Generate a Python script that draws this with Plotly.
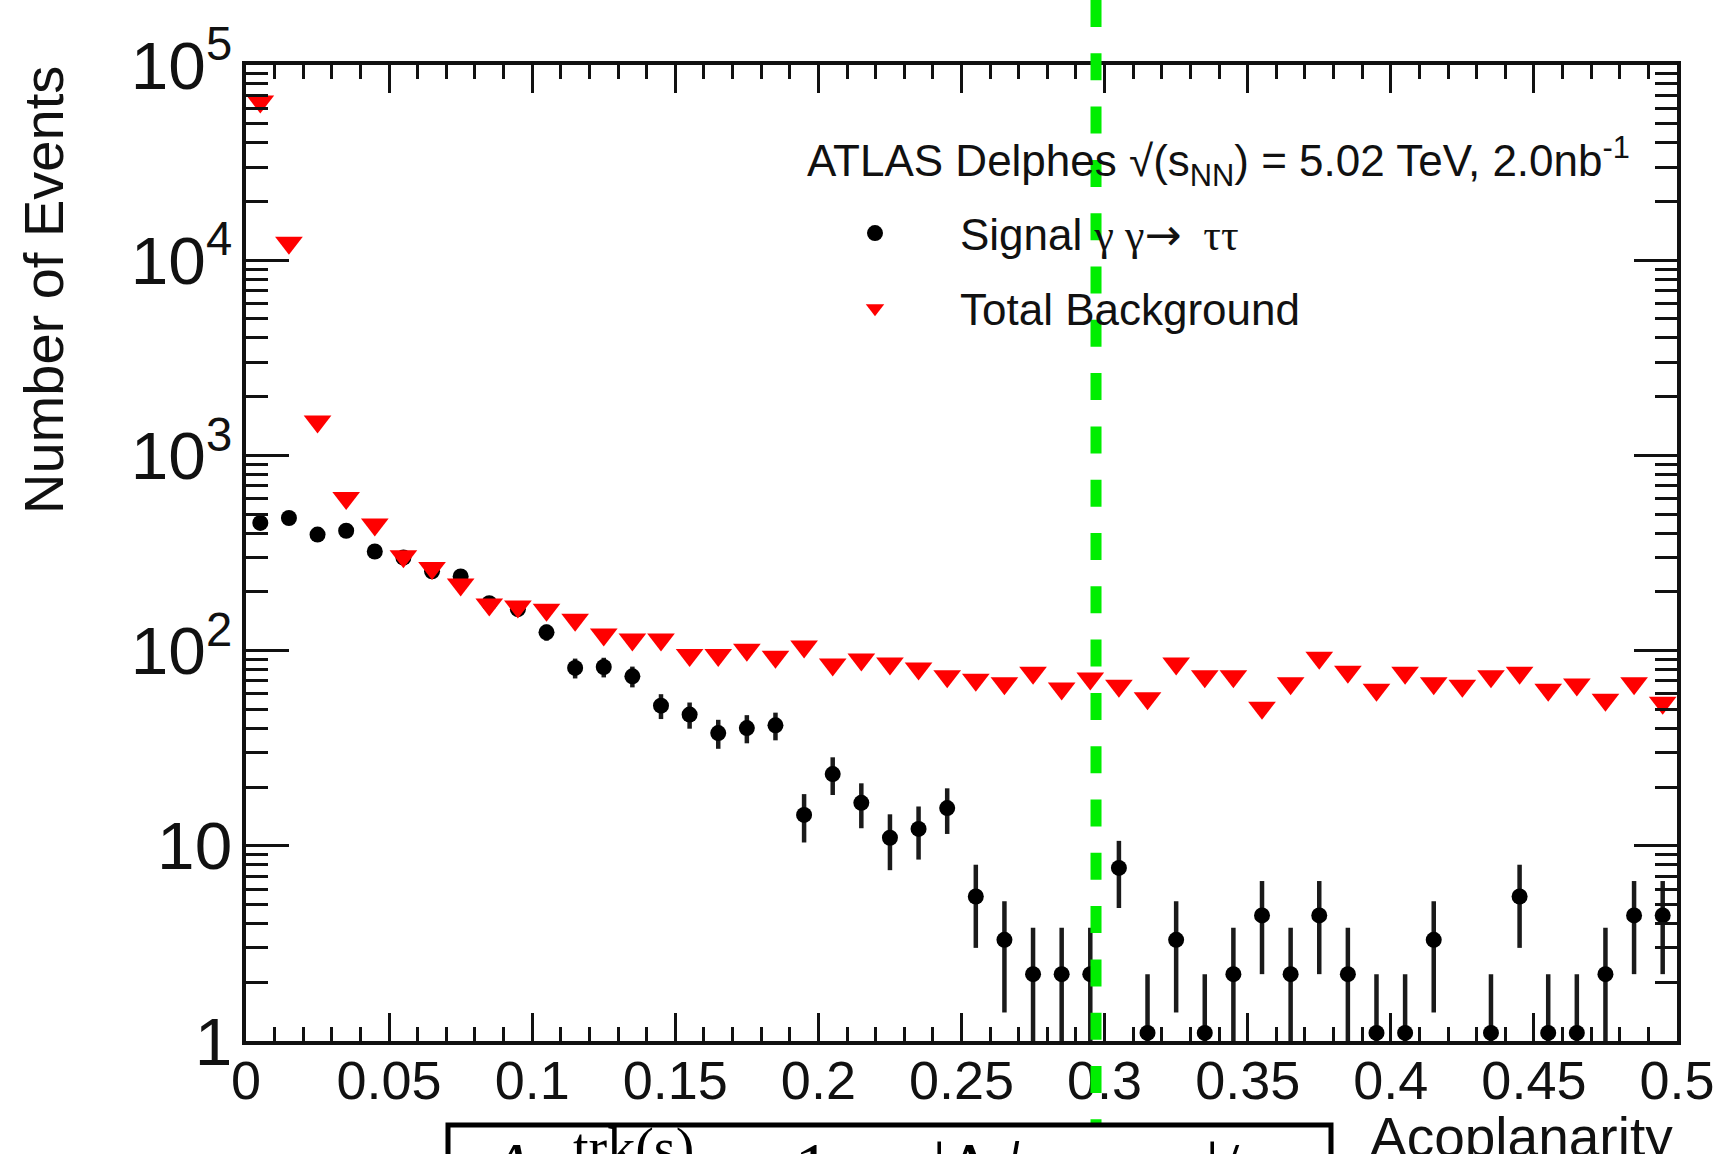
import plotly.graph_objects as go

# Acoplanarity bins (bin centres, width 0.01)
bin_centers = [0.005, 0.015, 0.025, 0.035, 0.045, 0.055, 0.065, 0.075, 0.085, 0.095,
               0.105, 0.115, 0.125, 0.135, 0.145, 0.155, 0.165, 0.175, 0.185, 0.195,
               0.205, 0.215, 0.225, 0.235, 0.245, 0.255, 0.265, 0.275, 0.285, 0.295,
               0.305, 0.315, 0.325, 0.335, 0.345, 0.355, 0.365, 0.375, 0.385, 0.395,
               0.405, 0.415, 0.425, 0.435, 0.445, 0.455, 0.465, 0.475, 0.485, 0.495]

# Signal gamma gamma -> tau tau (weighted events) and its statistical uncertainty
signal = [451, 478, 393, 411, 322, 300, 255, 240, 175, 163,
          124, 81.5, 82.4, 73.8, 52.2, 47.0, 37.8, 40.1, 41.4, 14.4,
          23.3, 16.6, 11.0, 12.2, 15.6, 5.5, 3.3, 2.2, 2.2, 2.2,
          7.7, 1.1, 3.3, 1.1, 2.2, 4.4, 2.2, 4.4, 2.2, 1.1,
          1.1, 3.3, None, 1.1, 5.5, 1.1, 1.1, 2.2, 4.4, 4.4]
signal_err = [22.3, 22.9, 20.8, 21.3, 18.8, 18.2, 16.7, 16.2, 13.9, 13.4,
              11.7, 9.5, 9.5, 9.0, 7.6, 7.2, 6.4, 6.6, 6.7, 4.0,
              5.1, 4.3, 3.5, 3.7, 4.1, 2.5, 1.9, 1.6, 1.6, 1.6,
              2.9, 1.1, 1.9, 1.1, 1.6, 2.2, 1.6, 2.2, 1.6, 1.1,
              1.1, 1.9, 0, 1.1, 2.5, 1.1, 1.1, 1.6, 2.2, 2.2]

# Total background
background = [65000, 12300, 1490, 605, 442, 304, 265, 218, 172, 168,
              162, 144, 121, 114, 114, 95, 95, 101, 93, 105,
              85, 90, 86, 81, 74, 71, 68, 77, 64, 72,
              66, 57, 86, 74, 74, 51, 68, 92, 78, 63,
              77, 68, 66, 74, 77, 63, 67, 56, 68, 54]

x_range = [0.0, 0.5]
acoplanarity_cut = 0.297

W, H = 1715, 1154
ML, MR, MT, MB = 246, 38, 65, 113
PLOT_W = W - ML - MR
PLOT_H = H - MT - MB

SANS = "Liberation Sans, Arial, Helvetica, sans-serif"
SERIF = "Liberation Serif, Times New Roman, serif"
INK = "#111111"


def px_to_paper_x(px):
    return (px - ML) / PLOT_W


def px_to_paper_y(py):
    return (H - MB - py) / PLOT_H


fig = go.Figure()

fig.add_trace(go.Scatter(
    x=bin_centers, y=signal, mode="markers",
    name=('Signal <span style="font-family:Liberation Serif">γ γ</span>'
          '<span style="font-family:DejaVu Sans">→</span>'
          '<span style="font-family:Liberation Serif">\u00a0\u00a0ττ</span>'),
    legendgroup="signal",
    marker=dict(symbol="circle", size=16, color="black"),
    error_y=dict(type="data", array=signal_err, color="#1a1a1a", thickness=4.5, width=0),
))

fig.add_trace(go.Scatter(
    x=bin_centers, y=background, mode="markers",
    name="Total Background",
    legendgroup="background",
    marker=dict(symbol="triangle-down", size=24, color="#ff0000"),
))

tick_font = dict(family=SANS, size=54, color=INK)

fig.update_xaxes(
    range=x_range, tick0=0, dtick=0.05,
    ticks="inside", ticklen=28, tickwidth=3, tickcolor=INK,
    showline=True, linewidth=4, linecolor=INK, mirror="ticks",
    showgrid=False, zeroline=False, tickfont=tick_font,
    ticklabelstandoff=-11,
    minor=dict(dtick=0.01, ticks="inside", ticklen=14, tickwidth=3,
               tickcolor=INK, showgrid=False),
)

fig.update_yaxes(
    type="log", range=[0, 5], dtick=1, exponentformat="power",
    ticks="inside", ticklen=43, tickwidth=3, tickcolor=INK,
    showline=True, linewidth=4, linecolor=INK, mirror="ticks",
    showgrid=False, zeroline=False, tickfont=tick_font,
    ticklabelstandoff=-1,
    minor=dict(dtick="D1", ticks="inside", ticklen=22, tickwidth=3,
               tickcolor=INK, showgrid=False),
)

# vertical dashed cut line, running from the top edge of the page down to the formula box
cut_paper_x = (acoplanarity_cut - x_range[0]) / (x_range[1] - x_range[0])
shapes = [
    dict(type="line", xref="paper", yref="paper",
         x0=cut_paper_x, x1=cut_paper_x,
         y0=px_to_paper_y(0), y1=px_to_paper_y(1150),
         line=dict(color="#00ee00", width=11, dash="27px,26.3px"),
         layer="above"),
    # formula box under the axis
    dict(type="rect", xref="paper", yref="paper",
         x0=px_to_paper_x(448), x1=px_to_paper_x(1331),
         y0=px_to_paper_y(1125), y1=px_to_paper_y(1260),
         line=dict(color="black", width=5), fillcolor="white", layer="above"),
]

annotations = [
    dict(text="ATLAS Delphes √(s<sub>NN</sub>) = 5.02 TeV, 2.0nb<sup>-1</sup>",
         xref="paper", yref="paper", x=px_to_paper_x(805), y=px_to_paper_y(161),
         xanchor="left", yanchor="middle", showarrow=False,
         font=dict(family=SANS, size=44, color=INK)),
    dict(text="Number of Events", textangle=-90,
         xref="paper", yref="paper", x=px_to_paper_x(44), y=px_to_paper_y(64),
         xanchor="center", yanchor="top", showarrow=False,
         font=dict(family=SANS, size=56, color=INK)),
    dict(text="Acoplanarity",
         xref="paper", yref="paper", x=px_to_paper_x(1675), y=px_to_paper_y(1104),
         xanchor="right", yanchor="top", showarrow=False,
         font=dict(family=SANS, size=55, color=INK)),
    # formula inside the box
    dict(text="<i>A</i><sub><i>ϕ</i></sub>",
         xref="paper", yref="paper", x=px_to_paper_x(483), y=px_to_paper_y(1126),
         xanchor="left", yanchor="top", showarrow=False,
         font=dict(family=SERIF, size=72, color="black")),
    dict(text="trk(s)",
         xref="paper", yref="paper", x=px_to_paper_x(571), y=px_to_paper_y(1115),
         xanchor="left", yanchor="top", showarrow=False,
         font=dict(family=SERIF, size=56, color="black")),
    dict(text="= 1 −",
         xref="paper", yref="paper", x=px_to_paper_x(812), y=px_to_paper_y(1126),
         xanchor="center", yanchor="top", showarrow=False,
         font=dict(family=SERIF, size=72, color="black")),
    dict(text="|Δ<i>ϕ</i><sub>trk1,trk2</sub>|/π",
         xref="paper", yref="paper", x=px_to_paper_x(930), y=px_to_paper_y(1126),
         xanchor="left", yanchor="top", showarrow=False,
         font=dict(family=SERIF, size=72, color="black")),
]

fig.update_layout(
    width=W, height=H,
    margin=dict(l=ML, r=MR, t=MT, b=MB, autoexpand=False),
    paper_bgcolor="white", plot_bgcolor="white",
    shapes=shapes, annotations=annotations,
    showlegend=True,
    legend=dict(x=px_to_paper_x(790), y=px_to_paper_y(198),
                xanchor="left", yanchor="top",
                bgcolor="rgba(0,0,0,0)", borderwidth=0,
                itemwidth=160, tracegroupgap=15, traceorder="grouped",
                font=dict(family=SANS, size=44, color=INK)),
)

fig.write_html("out.html")
